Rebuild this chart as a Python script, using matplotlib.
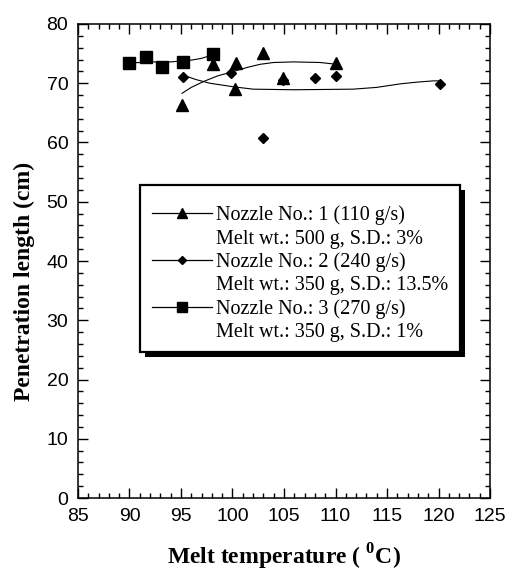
import matplotlib
matplotlib.use("Agg")
import matplotlib.pyplot as plt
from matplotlib.lines import Line2D
from matplotlib.patches import Rectangle
from matplotlib.ticker import MultipleLocator

plt.rcParams['mathtext.fontset'] = 'custom'
plt.rcParams['mathtext.rm'] = 'Liberation Serif'
plt.rcParams['mathtext.bf'] = 'Liberation Serif:bold'

# measured points
t_nozzle1 = [95.1, 98.1, 100.3, 100.2, 103.0, 104.9, 110.0]
l_nozzle1 = [66.4, 73.2, 73.4, 69.0, 75.1, 70.8, 73.4]
t_nozzle2 = [95.2, 99.9, 103.0, 104.9, 108.0, 110.0, 120.1]
l_nozzle2 = [71.1, 71.8, 60.7, 70.5, 70.9, 71.2, 69.9]
t_nozzle3 = [90.0, 91.6, 93.2, 95.2, 98.1]
l_nozzle3 = [73.4, 74.5, 72.7, 73.5, 74.9]

# trend curves
t_fit1 = [95.1, 96.0, 97.2, 98.5, 100.1, 101.5, 102.7, 104.0, 105.9, 108.5, 110.1]
l_fit1 = [68.3, 69.3, 70.3, 71.2, 72.0, 72.7, 73.2, 73.5, 73.6, 73.5, 73.2]
t_fit2 = [95.1, 96.5, 97.8, 100.1, 102.0, 106.0, 111.7, 114.0, 116.3, 118.0, 119.5, 120.0]
l_fit2 = [71.4, 70.6, 70.0, 69.4, 69.0, 68.9, 69.0, 69.3, 69.9, 70.2, 70.4, 70.4]
t_fit3 = [90.0, 92.0, 94.0, 96.0, 97.0, 98.1]
l_fit3 = [73.4, 73.6, 73.6, 73.9, 74.2, 74.8]

legend_labels = ["Nozzle No.: 1 (110 g/s)", "Melt wt.: 500 g, S.D.: 3%",
                 "Nozzle No.: 2 (240 g/s)", "Melt wt.: 350 g, S.D.: 13.5%",
                 "Nozzle No.: 3 (270 g/s)", "Melt wt.: 350 g, S.D.: 1%"]

fig = plt.figure(figsize=(5.07, 5.71), dpi=100)
ax = fig.add_axes([0.1538, 0.1278, 0.8127, 0.8302])

ax.plot(t_fit1, l_fit1, color='black', lw=0.8)
ax.plot(t_fit2, l_fit2, color='black', lw=0.8)
ax.plot(t_fit3, l_fit3, color='black', lw=0.8)
ax.plot(t_nozzle1, l_nozzle1, '^', color='black', ms=8, ls='none')
ax.plot(t_nozzle2, l_nozzle2, 'D', color='black', ms=5, ls='none')
ax.plot(t_nozzle3, l_nozzle3, 's', color='black', ms=8.5, ls='none')

ax.set_xlim(85, 125)
ax.set_ylim(0, 80)
ax.xaxis.set_major_locator(MultipleLocator(5))
ax.xaxis.set_minor_locator(MultipleLocator(1))
ax.yaxis.set_major_locator(MultipleLocator(10))
ax.yaxis.set_minor_locator(MultipleLocator(2))
ax.tick_params(which='both', direction='in', top=True, right=True, width=1)
ax.tick_params(which='major', length=7, pad=7, labelsize=14)
ax.tick_params(which='minor', length=3.5)
for lab in ax.get_xticklabels() + ax.get_yticklabels():
    lab.set_fontfamily('Liberation Sans')
for s in ax.spines.values():
    s.set_linewidth(1.1)

ax.set_xlabel('Melt temperature ( $^{\\mathbf{0}}$C)', fontfamily='Liberation Serif',
              fontweight='bold', fontsize=17, labelpad=12)
ax.set_ylabel('Penetration length (cm)', fontfamily='Liberation Serif',
              fontweight='bold', fontsize=17, labelpad=8)
ax.yaxis.label.set_y(0.456)

# legend box with a solid drop shadow
shadow = Rectangle((0.1626, 0.2975), 0.7767, 0.3523, transform=ax.transAxes,
                   facecolor='black', edgecolor='none', zorder=4)
box = Rectangle((0.1505, 0.3080), 0.7767, 0.3523, transform=ax.transAxes,
                facecolor='white', edgecolor='black', lw=1.6, zorder=5)
ax.add_patch(shadow)
ax.add_patch(box)

blank = Line2D([], [], color='none')
handles = [Line2D([], [], color='black', lw=0.9, marker='^', ms=6.5), blank,
           Line2D([], [], color='black', lw=0.9, marker='D', ms=3.8), blank,
           Line2D([], [], color='black', lw=0.9, marker='s', ms=6.5), blank]
leg = ax.legend(handles, legend_labels, loc='upper left', bbox_to_anchor=(0.1796, 0.6166),
                borderaxespad=0, borderpad=0, frameon=False, handlelength=3.0,
                handletextpad=0.2, labelspacing=0.2,
                prop={'family': 'Liberation Serif', 'size': 14.5})
leg.set_zorder(6)

fig.savefig('out.png', dpi=100)
